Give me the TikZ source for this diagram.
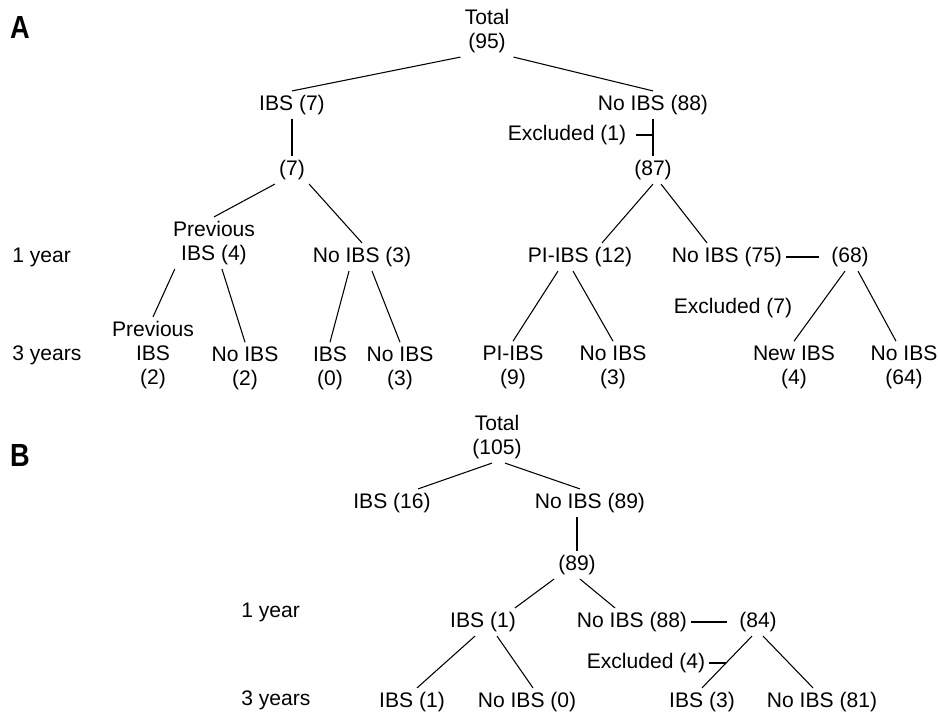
\documentclass[tikz,border=0pt]{standalone}
\usepackage{fontspec}
\setmainfont{Liberation Sans}
\usepackage{tikz}
\usetikzlibrary{positioning, calc}

\begin{document}
\begin{tikzpicture}[x=0.75pt, y=-0.75pt,
    txt/.style={inner sep=3pt, align=center,
      font=\fontsize{15.8}{18}\selectfont},
    yr/.style={txt, anchor=west},
    panel/.style={inner sep=0pt, font=\fontsize{24}{28}\selectfont\bfseries},
    link/.style={line width=0.8pt}
]
\useasboundingbox (0,0) rectangle (938,717);

% panel A
\node[panel] (labA) at (20,27) {\scalebox{0.85}[1]{A}};
\node[txt] (t95) at (487,31) {Total\\(95)};
\node[txt] (ibs7) at (292,105) {IBS (7)};
\node[txt] (nibs88) at (653,105) {No IBS (88)};
\node[txt] (exc1) at (567,135) {Excluded (1)};
\node[txt] (s7) at (292,170) {(7)};
\node[txt] (s87) at (653,170) {(87)};
\node[yr] (yrA1) at (8,257) {1 year};
\node[txt] (prev4) at (214,243) {Previous\\IBS (4)};
\node[txt] (nibs3) at (362,257) {No IBS (3)};
\node[txt] (pi12) at (580,257) {PI-IBS (12)};
\node[txt] (nibs75) at (727,257) {No IBS (75)};
\node[txt] (s68) at (850,257) {(68)};
\node[txt] (exc7) at (733,308) {Excluded (7)};
\node[yr] (yrA3) at (8,355) {3 years};
\node[txt] (prev2) at (153,355) {Previous\\IBS\\(2)};
\node[txt] (nibs2) at (245,368) {No IBS\\(2)};
\node[txt] (ibs0) at (330,368) {IBS\\(0)};
\node[txt] (nibs3b) at (400,368) {No IBS\\(3)};
\node[txt] (pi9) at (513,367) {PI-IBS\\(9)};
\node[txt] (nibs3c) at (613,367) {No IBS\\(3)};
\node[txt] (new4) at (794,367) {New IBS\\(4)};
\node[txt] (nibs64) at (904,367) {No IBS\\(64)};

\draw[link] (t95.south west) -- (ibs7.north);
\draw[link] (t95.south east) -- (nibs88.north);
\draw[link] (ibs7.south) -- (s7.north);
\draw[link] (nibs88.south) -- (s87.north);
\draw[link, shorten <=4pt] (exc1.east) -- (exc1.east -| nibs88.south);
\draw[link] (s7.south west) -- (prev4.north);
\draw[link] (s7.south east) -- (nibs3.north);
\draw[link] (s87.south) -- ([shift={(22,0)}]pi12.north);
\draw[link] ([shift={(8,0)}]s87.south) -- ([shift={(-20,0)}]nibs75.north);
\draw[link, shorten >=6pt] (nibs75.east) -- (s68.west);
\draw[link] ([shift={(6,0)}]prev4.south west) -- (prev2.north);
\draw[link] ([shift={(8,0)}]prev4.south) -- (nibs2.north);
\draw[link] ([shift={(-13,0)}]nibs3.south) -- (ibs0.north);
\draw[link] ([shift={(10,0)}]nibs3.south) -- (nibs3b.north);
\draw[link] ([shift={(-22,0)}]pi12.south) -- (pi9.north);
\draw[link] ([shift={(-7,0)}]pi12.south) -- (nibs3c.north);
\draw[link] ([shift={(-5,0)}]s68.south) -- (new4.north);
\draw[link] ([shift={(8,0)}]s68.south) -- ([shift={(-8,0)}]nibs64.north);

% panel B
\node[panel] (labB) at (20,455) {\scalebox{0.85}[1]{B}};
\node[txt] (t105) at (497,437) {Total\\(105)};
\node[txt] (ibs16) at (392,503) {IBS (16)};
\node[txt] (nibs89) at (590,503) {No IBS (89)};
\node[txt] (s89) at (577,565) {(89)};
\node[yr] (yrB1) at (237,612) {1 year};
\node[txt] (ibs1) at (483,622) {IBS (1)};
\node[txt] (nibs88b) at (632,622) {No IBS (88)};
\node[txt] (s84) at (758,622) {(84)};
\node[txt] (exc4) at (646,663) {Excluded (4)};
\node[yr] (yrB3) at (237,700) {3 years};
\node[txt] (ibs1b) at (412,702) {IBS (1)};
\node[txt] (nibs0) at (527,702) {No IBS (0)};
\node[txt] (ibs3) at (702,702) {IBS (3)};
\node[txt] (nibs81) at (822,702) {No IBS (81)};

\draw[link] ([shift={(-5,0)}]t105.south) -- ([shift={(26,0)}]ibs16.north);
\draw[link] ([shift={(8,0)}]t105.south) -- ([shift={(-10,0)}]nibs89.north);
\draw[link] (s89.north |- nibs89.south) -- (s89.north);
\draw[link] (s89.south west) -- ([shift={(32,0)}]ibs1.north);
\draw[link] ([shift={(3,0)}]s89.south) -- ([shift={(-17,0)}]nibs88b.north);
\draw[link, shorten >=6pt] (nibs88b.east) -- (s84.west);
\draw[link] ([shift={(-6,0)}]s84.south) -- (ibs3.north)
  coordinate[pos=0.52] (cut4);
\draw[link] ([shift={(5,0)}]s84.south) -- ([shift={(-9,0)}]nibs81.north);
\draw[link] (exc4.east) -- (exc4.east -| cut4);
\draw[link] ([shift={(-8,0)}]ibs1.south) -- ([shift={(5,0)}]ibs1b.north);
\draw[link] ([shift={(14,0)}]ibs1.south) -- ([shift={(6,0)}]nibs0.north);
\end{tikzpicture}
\end{document}
